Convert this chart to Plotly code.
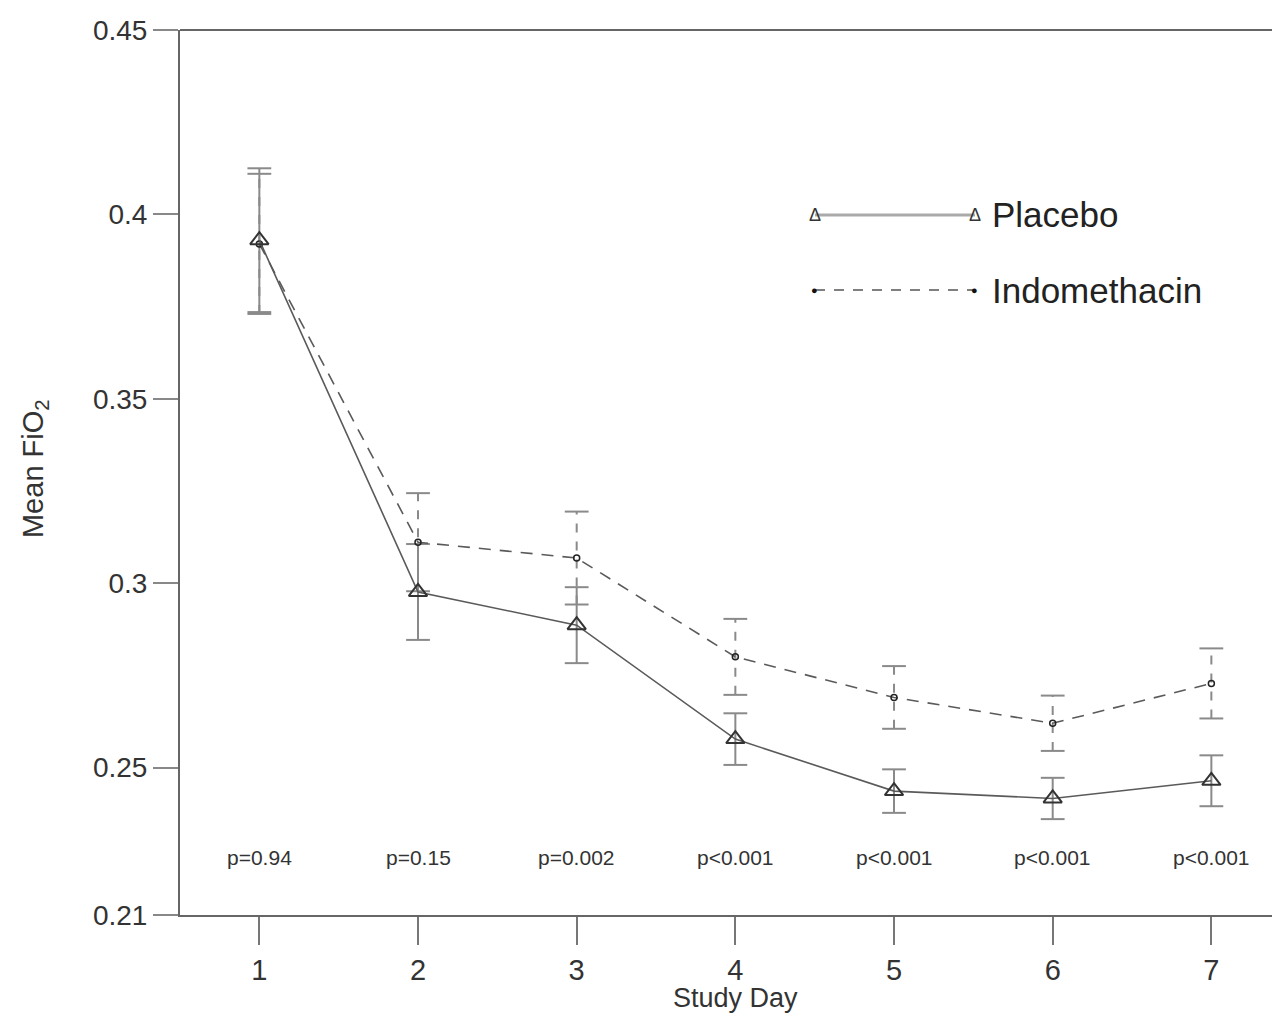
import plotly.graph_objects as go

days = [1, 2, 3, 4, 5, 6, 7]
placebo_mean = [0.393, 0.2976, 0.2886, 0.2577, 0.2436, 0.2416, 0.2464]
placebo_err = [0.0195, 0.013, 0.0103, 0.0070, 0.0059, 0.0056, 0.0069]
indo_mean = [0.392, 0.3111, 0.3068, 0.2800, 0.2690, 0.2620, 0.2728]
indo_err = [0.019, 0.0133, 0.0126, 0.0103, 0.0085, 0.0075, 0.0095]
p_labels = ["p=0.94", "p=0.15", "p=0.002", "p<0.001", "p<0.001", "p<0.001", "p<0.001"]
y_ticks = [0.21, 0.25, 0.3, 0.35, 0.4, 0.45]
y_tick_text = ["0.21", "0.25", "0.3", "0.35", "0.4", "0.45"]

FONT = "Liberation Sans, Arial, sans-serif"
ERR_COLOR = "#8a8a8a"
LINE_COLOR = "#5a5a5a"

fig = go.Figure()


def error_traces(means, errs, dash):
    xs, ys, cx, cy = [], [], [], []
    for d, m, e in zip(days, means, errs):
        xs += [d, d, None]
        ys += [m - e, m + e, None]
        cx += [d, d]
        cy += [m - e, m + e]
    fig.add_trace(go.Scatter(x=xs, y=ys, mode="lines", showlegend=False,
                             line=dict(color=ERR_COLOR, width=2, dash=dash),
                             hoverinfo="skip"))
    fig.add_trace(go.Scatter(x=cx, y=cy, mode="markers", showlegend=False,
                             marker=dict(symbol="line-ew", size=17,
                                         line=dict(color=ERR_COLOR, width=2)),
                             hoverinfo="skip"))


error_traces(indo_mean, indo_err, "dash")
error_traces(placebo_mean, placebo_err, "solid")

fig.add_trace(go.Scatter(
    x=days, y=indo_mean, mode="lines+markers", name="Indomethacin",
    line=dict(color=LINE_COLOR, width=1.6, dash="12px,9px"),
    marker=dict(symbol="circle-open", size=6, color="#222",
                line=dict(width=1.5, color="#222")),
    showlegend=False))

fig.add_trace(go.Scatter(
    x=days, y=placebo_mean, mode="lines+markers", name="Placebo",
    line=dict(color=LINE_COLOR, width=1.6),
    marker=dict(symbol="triangle-up-open", size=16, color="#333",
                line=dict(width=2, color="#333")),
    showlegend=False))

# p-value labels
for d, lab in zip(days, p_labels):
    fig.add_annotation(x=d, y=0.2255, text=lab, showarrow=False,
                       xanchor="center", yanchor="middle",
                       font=dict(family=FONT, size=21, color="#333"))

# custom legend
lx0, lx1, ltx = 0.5731, 0.7175, 0.7310
ly_p, ly_i = 0.791, 0.7062
fig.add_shape(type="line", xref="paper", yref="paper", x0=lx0, x1=lx1,
              y0=ly_p, y1=ly_p, line=dict(color="#aaaaaa", width=3))
fig.add_shape(type="line", xref="paper", yref="paper", x0=lx0, x1=lx1,
              y0=ly_i, y1=ly_i, line=dict(color="#555555", width=1.5, dash="10px,9px"))
for xx in (lx0, lx1):
    fig.add_annotation(xref="paper", yref="paper", x=xx, y=ly_p, text="Δ",
                       showarrow=False, xanchor="center", yanchor="middle",
                       font=dict(family=FONT, size=18, color="#333"))
    fig.add_annotation(xref="paper", yref="paper", x=xx, y=ly_i, text="●",
                       showarrow=False, xanchor="center", yanchor="middle",
                       font=dict(family=FONT, size=11, color="#111"))
fig.add_annotation(xref="paper", yref="paper", x=ltx, y=ly_p, text="Placebo",
                   xanchor="left", yanchor="middle", showarrow=False,
                   font=dict(family=FONT, size=35, color="#222"))
fig.add_annotation(xref="paper", yref="paper", x=ltx, y=ly_i, text="Indomethacin",
                   xanchor="left", yanchor="middle", showarrow=False,
                   font=dict(family=FONT, size=35, color="#222"))

# top frame line
fig.add_shape(type="line", xref="paper", yref="paper", x0=0, x1=1, y0=1, y1=1,
              line=dict(color="#666", width=2))

# axis titles
fig.add_annotation(xref="x", yref="paper", x=4, y=-0.094, text="Study Day",
                   showarrow=False, xanchor="center", yanchor="middle",
                   font=dict(family=FONT, size=27, color="#333"))
fig.add_annotation(xref="paper", yref="paper", x=-0.1309, y=0.505,
                   text="Mean FiO<sub>2</sub>", textangle=-90, showarrow=False,
                   xanchor="center", yanchor="middle",
                   font=dict(family=FONT, size=29, color="#333"))

fig.update_layout(
    width=1280, height=1020,
    margin=dict(l=172, r=0, t=22, b=113, autoexpand=False),
    plot_bgcolor="white", paper_bgcolor="white",
    font=dict(family=FONT, color="#333"),
)
fig.update_xaxes(range=[0.5, 7.483], tickvals=days, ticks="outside", ticklen=28,
                 tickwidth=1.5, tickcolor="#777", showline=True, linecolor="#666",
                 linewidth=2, showgrid=False, zeroline=False, automargin=False,
                 tickfont=dict(family=FONT, size=29, color="#333"))
fig.update_yaxes(range=[0.21, 0.45], tickvals=y_ticks, ticktext=y_tick_text,
                 ticks="outside", ticklen=25, tickwidth=2, tickcolor="#888",
                 showline=True, linecolor="#666", linewidth=2, showgrid=False,
                 zeroline=False, automargin=False,
                 tickfont=dict(family=FONT, size=28, color="#333"))

fig.write_html("out.html")
